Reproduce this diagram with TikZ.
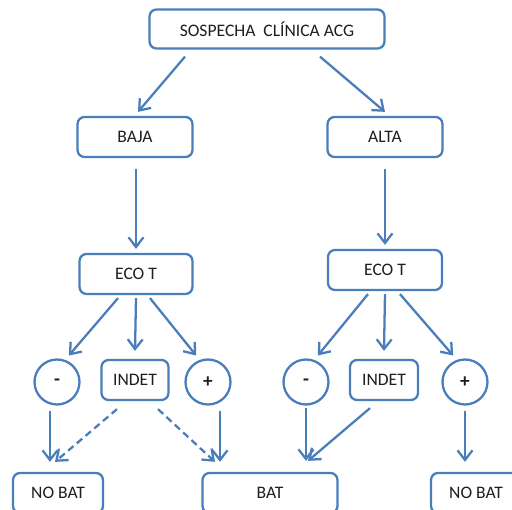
\documentclass[tikz,border=0pt]{standalone}
\usepackage{fontspec}
\setmainfont{Carlito}
\usetikzlibrary{arrows.meta,calc}
\definecolor{edge}{HTML}{4A7EBB}
\definecolor{ink}{HTML}{1E1E1E}

\begin{document}
\begin{tikzpicture}[
  x=0.02cm,y=-0.02cm,
  font=\fontsize{10}{12}\selectfont,
  arrow/.style={-{Straight Barb[length=5.5pt,width=8.5pt]},line width=1.3pt,draw=edge},
  dasharrow/.style={arrow,dashed,dash pattern=on 4pt off 2.5pt},
  box/.style={draw=edge,line width=1.3pt,rounded corners=4pt,fill=white,text=ink,
              minimum height=0.78cm,inner sep=2pt},
  result/.style={draw=edge,line width=1.3pt,circle,fill=white,text=ink,
                 minimum size=0.9cm,inner sep=0pt,font=\fontsize{11}{12}\selectfont\bfseries}
]
\useasboundingbox (0,0) rectangle (512,510);
\clip (0,0) rectangle (512,510);

% Top and risk level
\node[box,minimum width=4.7cm] (sospecha) at (267,29) {SOSPECHA\ \ CLÍNICA ACG};
\node[box,minimum width=2.3cm,minimum height=0.8cm] (baja) at (135,137) {BAJA};
\node[box,minimum width=2.3cm,minimum height=0.8cm] (alta) at (385,137) {ALTA};

% Ultrasound
\node[box,minimum width=2.26cm,minimum height=0.8cm] (ecoL) at (136,274) {ECO T};
\node[box,minimum width=2.28cm,minimum height=0.8cm] (ecoR) at (385,270) {ECO T};

% Results
\node[result] (minusL) at (57,382) {-};
\node[box,minimum width=1.34cm,minimum height=0.8cm] (indetL) at (135,380) {INDET};
\node[result] (plusL) at (208,382) {+};
\node[result] (minusR) at (306,382) {-};
\node[box,minimum width=1.36cm,minimum height=0.8cm] (indetR) at (384,380) {INDET};
\node[result] (plusR) at (465,382) {+};

% Decision
\node[box,minimum width=1.8cm,minimum height=0.8cm] (nobatL) at (58,493) {NO BAT};
\node[box,minimum width=2.7cm,minimum height=0.8cm] (bat) at (270,493) {BAT};
\node[box,minimum width=1.8cm,minimum height=0.8cm] (nobatR) at (476,493) {NO BAT};

% Arrows
\draw[arrow] ([shift={(-82,7)}]sospecha.south) -- ([shift={(3,-4)}]baja.north);
\draw[arrow] ([shift={(53,7)}]sospecha.south) -- ([shift={(0,-4)}]alta.north);
\draw[arrow] ([shift={(1,11)}]baja.south) -- ([shift={(0,-4)}]ecoL.north);
\draw[arrow] ([shift={(0,11)}]alta.south) -- ([shift={(0,-4)}]ecoR.north);

\draw[arrow] ([shift={(-18,3)}]ecoL.south) -- ([shift={(0,-6)}]minusL.60);
\draw[arrow] ([shift={(0,3)}]ecoL.south) -- ([shift={(0,-8)}]indetL.north);
\draw[arrow] ([shift={(14,3)}]ecoL.south) -- ([shift={(0,-6)}]plusL.120);
\draw[arrow] ([shift={(-17,3)}]ecoR.south) -- ([shift={(0,-6)}]minusR.60);
\draw[arrow] ([shift={(0,3)}]ecoR.south) -- ([shift={(0,-8)}]indetR.north);
\draw[arrow] ([shift={(15,3)}]ecoR.south) -- ([shift={(0,-6)}]plusR.120);

\draw[arrow] ([shift={(-7,5)}]minusL.south) -- ([shift={(-8,-10)}]nobatL.north);
\draw[dasharrow] ([shift={(-18,8)}]indetL.south) -- ([shift={(-3,-10)}]nobatL.north);
\draw[dasharrow] ([shift={(23,8)}]indetL.south) -- ([shift={(-55,-10)}]bat.north);
\draw[arrow] ([shift={(12,5)}]plusL.south) -- ([shift={(-50,-10)}]bat.north);
\draw[arrow] ([shift={(0,2)}]minusR.south) -- ([shift={(36,-11)}]bat.north);
\draw[arrow] ([shift={(-14,7)}]indetR.south) -- ([shift={(38,-11)}]bat.north);
\draw[arrow] ([shift={(0,5)}]plusR.south) -- ([shift={(-11,-10)}]nobatR.north);

\end{tikzpicture}
\end{document}
